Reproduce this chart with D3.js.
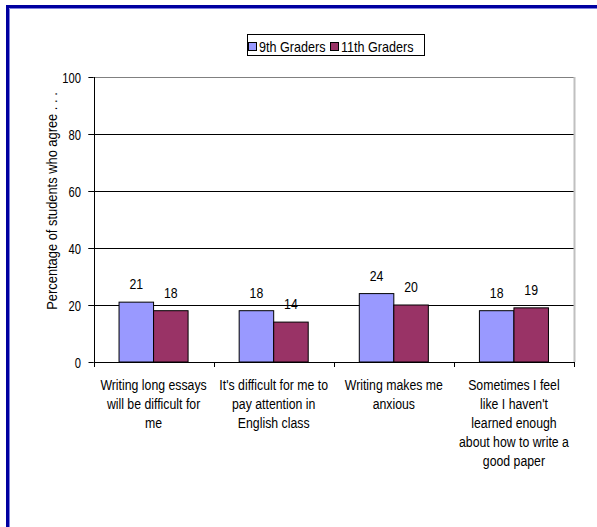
<!DOCTYPE html>
<html><head><meta charset="utf-8">
<script src="https://cdn.jsdelivr.net/npm/d3@7"></script>
<style>body{margin:0;background:#fff;}svg{display:block;font-family:"Liberation Sans",Arial,sans-serif;}</style>
</head><body>
<svg id="c" width="597" height="527"></svg>
<script>
const categories = [
  ["Writing long essays","will be difficult for","me"],
  ["It's difficult for me to","pay attention in","English class"],
  ["Writing makes me","anxious"],
  ["Sometimes I feel","like I haven't","learned enough","about how to write a","good paper"]
];
const seriesNames = ["9th Graders","11th Graders"];
const grade9 = [21,18,24,18];
const grade11 = [18,14,20,19];
const yTicks = [0,20,40,60,80,100];
const colors = ["#9999ff","#993366"];

const svg = d3.select("#c");
const W=597,H=527;
svg.append("rect").attr("width",W).attr("height",H).attr("fill","#fff");
// outer border (only top/left visible)
svg.append("path").attr("d","M7.5,600V6.5H600").attr("fill","none").attr("stroke","#0000a0").attr("stroke-width",3);
svg.append("path").attr("d","M9.5,600V8.5H600").attr("fill","none").attr("stroke","#8080e0").attr("stroke-width",1);

// squashed text helper
function txt(parent,x,y,s,size,sx,anchor){
  return parent.append("text").attr("transform",`translate(${x},${y}) scale(${sx},1)`)
    .attr("font-size",size).attr("text-anchor",anchor||"middle").attr("fill","#000").text(s);
}

const L=93.5,R=574,T=77,B=362;
const x = d3.scaleBand().domain(d3.range(categories.length)).range([L,R]).paddingInner(0).paddingOuter(0);
const inner = d3.scaleBand().domain([0,1]).range([0,x.bandwidth()]).paddingInner(0).paddingOuter(0.74);
const y = d3.scaleLinear().domain([0,100]).range([B,T]);

// gridlines
svg.append("g").selectAll("line").data(yTicks.filter(d=>d>0)).join("line")
  .attr("x1",L-5).attr("x2",R).attr("y1",d=>Math.round(y(d))+0.5).attr("y2",d=>Math.round(y(d))+0.5)
  .attr("stroke",d=>d===100?"#808080":"#000").attr("stroke-width",1);
// right plot border
svg.append("line").attr("x1",R+0.5).attr("x2",R+0.5).attr("y1",T).attr("y2",B).attr("stroke","#c0c0c0").attr("stroke-width",2);

// bars
const series=[grade9,grade11];
const g = svg.append("g");
series.forEach((vals,si)=>{
  g.selectAll(null).data(vals).join("rect")
    .attr("x",(d,i)=>x(i)+inner(si)).attr("width",inner.bandwidth())
    .attr("y",d=>y(d)).attr("height",d=>B-y(d))
    .attr("fill",colors[si]).attr("stroke","#000").attr("stroke-width",1);
  vals.forEach((d,i)=>{
    txt(g, x(i)+inner(si)+inner.bandwidth()/2, y(d)-13, d, 15, 0.82);
  });
});

// y axis
const ya = svg.append("g");
ya.append("line").attr("x1",Math.round(L)+0.5).attr("x2",Math.round(L)+0.5).attr("y1",T).attr("y2",B+1).attr("stroke","#000");
yTicks.forEach(t=>{
  const yy=Math.round(y(t))+0.5;
  ya.append("line").attr("x1",L-5).attr("x2",L).attr("y1",yy).attr("y2",yy).attr("stroke","#000");
  txt(ya, 81, yy+5.5, t, 14, 0.8, "end");
});

// x axis
const xa = svg.append("g").attr("transform",`translate(0,${B})`);
xa.append("line").attr("x1",L).attr("x2",R).attr("y1",0.5).attr("y2",0.5).attr("stroke","#000");
const bounds = d3.range(categories.length+1).map(i=> i<categories.length? x(i): R);
xa.selectAll(null).data(bounds).join("line")
  .attr("x1",d=>Math.round(d)+0.5).attr("x2",d=>Math.round(d)+0.5).attr("y1",0).attr("y2",5).attr("stroke","#000");
categories.forEach((lines,i)=>{
  lines.forEach((ln,j)=>{
    txt(xa, x(i)+x.bandwidth()/2, 28+j*19, ln, 15, 0.82);
  });
});

// y title
svg.append("text").attr("transform","translate(57,201) rotate(-90) scale(0.92,1)").attr("text-anchor","middle")
  .attr("font-size",14).text("Percentage of students who agree . . .");

// legend
const lg = svg.append("g");
lg.append("rect").attr("x",247.5).attr("y",34.5).attr("width",177).attr("height",21).attr("fill","#fff").attr("stroke","#000");
const lx=[248,330];
seriesNames.forEach((n,i)=>{
  lg.append("rect").attr("x",lx[i]+0.5).attr("y",42.5).attr("width",8).attr("height",8).attr("fill",colors[i]).attr("stroke","#000");
  txt(lg, lx[i]+11, 52, n, 14, 0.9, "start");
});
</script>
</body></html>
